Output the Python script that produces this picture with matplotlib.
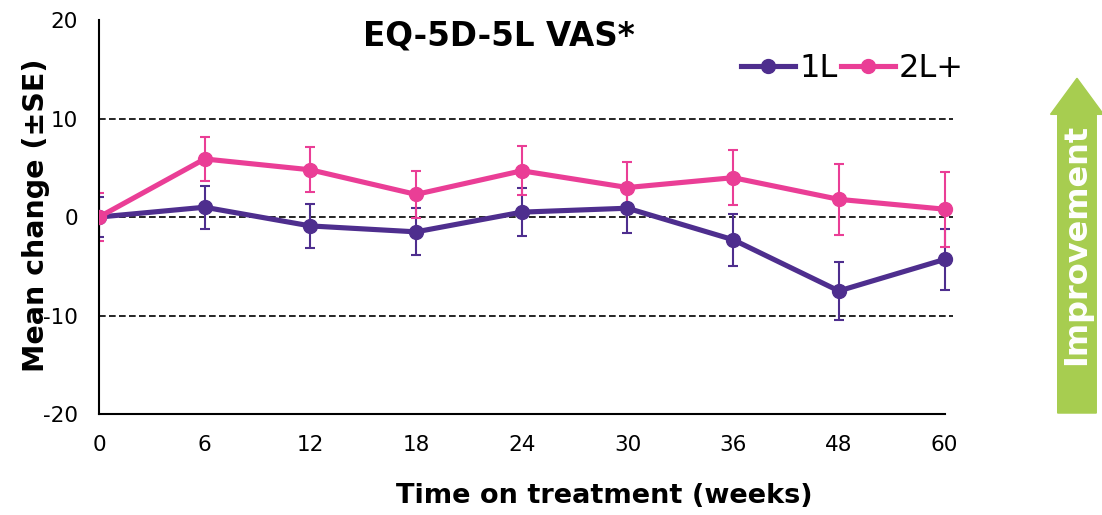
import matplotlib.pyplot as plt
from matplotlib.patches import FancyArrow

plt.rcParams['font.family'] = ['DejaVu Sans']
plt.rcParams['axes.unicode_minus'] = False

# 数据：治疗时间（周）与平均变化
weeks = ["0", "6", "12", "18", "24", "30", "36", "48", "60"]
mean_1l = [0, 1.0, -0.9, -1.5, 0.5, 0.9, -2.3, -7.5, -4.3]
se_1l = [2.0, 2.2, 2.2, 2.4, 2.45, 2.5, 2.65, 2.9, 3.1]
mean_2l = [0, 5.9, 4.8, 2.3, 4.7, 3.0, 4.0, 1.8, 0.8]
se_2l = [2.4, 2.2, 2.3, 2.4, 2.5, 2.6, 2.8, 3.6, 3.8]

purple = "#4E2E8E"
pink = "#EA3E96"
green = "#A7CD50"

fig = plt.figure(figsize=(11.02, 5.15), dpi=100)
ax = fig.add_axes([0.0898, 0.196, 0.775, 0.765])
x = list(range(len(weeks)))

# 参考虚线
for yv in [10, 0, -10]:
    ax.axhline(yv, color="black", linestyle=(0, (4, 2)), linewidth=1.2, zorder=1)

ax.errorbar(x, mean_1l, yerr=se_1l, fmt="none", ecolor=purple, elinewidth=1.5, capsize=3.8, capthick=1.5, zorder=2)
ax.errorbar(x, mean_2l, yerr=se_2l, fmt="none", ecolor=pink, elinewidth=1.5, capsize=3.8, capthick=1.5, zorder=2)
ax.plot(x, mean_1l, color=purple, linewidth=3.7, marker="o", markersize=10, label="1L", zorder=3)
ax.plot(x, mean_2l, color=pink, linewidth=3.7, marker="o", markersize=10, label="2L+", zorder=4)

ax.set_xlim(0, 8.08)
ax.set_ylim(-20, 20)
ax.set_xticks(x)
ax.set_xticklabels(weeks)
ax.set_yticks([-20, -10, 0, 10, 20])
ax.tick_params(axis="both", length=0, labelsize=15.5, colors="black")
ax.tick_params(axis="x", pad=15)
ax.tick_params(axis="y", pad=15)
ax.spines["top"].set_visible(False)
ax.spines["right"].set_visible(False)
ax.spines["bottom"].set_bounds(0, 8)
ax.spines["left"].set_linewidth(1.5)
ax.spines["bottom"].set_linewidth(1.5)

# 标题与坐标轴名称
fig.text(0.453, 0.930, "EQ-5D-5L VAS*", fontsize=23.5, fontweight="bold", ha="center", va="center")
fig.text(0.548, 0.0233, "Time on treatment (weeks)", fontsize=19.5, fontweight="bold", ha="center", va="baseline")
fig.text(0.033, 0.5825, "Mean change (±SE)", fontsize=20.5, fontweight="bold", rotation=90, ha="center", va="center")

ax.legend(loc="upper right", bbox_to_anchor=(1.035, 0.965), ncol=2, frameon=False, fontsize=23,
          handlelength=1.7, handletextpad=0.12, columnspacing=0.1, borderaxespad=0.2)

# 右侧绿色箭头 Improvement
arrow = FancyArrow(0.9773, 0.198, 0, 0.65, width=0.035, head_width=0.048, head_length=0.07,
                   length_includes_head=True, transform=fig.transFigure, color=green, zorder=1)
fig.add_artist(arrow)
fig.text(0.9773, 0.525, "Improvement", rotation=90, color="white", fontsize=23,
         fontweight="bold", ha="center", va="center")

plt.savefig("out.png", dpi=100)
